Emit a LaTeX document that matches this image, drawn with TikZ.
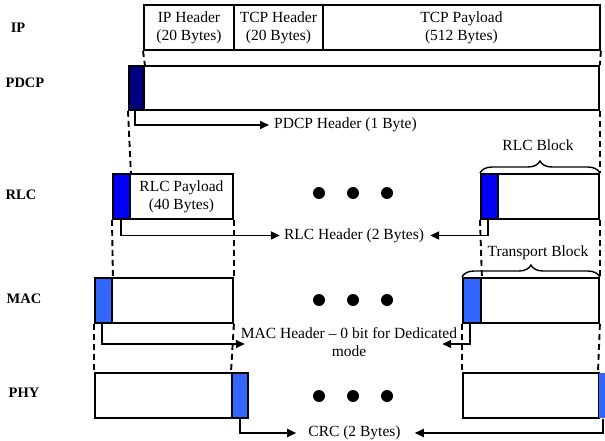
\documentclass[tikz,border=0pt]{standalone}
\usepackage{fontspec}
\setmainfont{Liberation Serif}
\usetikzlibrary{arrows.meta,decorations.pathreplacing}
\definecolor{pdcpnavy}{RGB}{0,0,128}
\definecolor{rlcblue}{RGB}{0,0,255}
\definecolor{macblue}{RGB}{51,102,255}
\begin{document}
\begin{tikzpicture}[x=1pt,y=-1pt,
 box/.style={draw, line width=1.9pt, inner sep=0pt, anchor=north west, font=\fontsize{15.5}{18}\selectfont, align=center},
 lay/.style={font=\fontsize{14.5}{16}\selectfont\bfseries, inner sep=0pt},
 txt/.style={font=\fontsize{15.5}{18}\selectfont, align=center, inner sep=0pt},
 guide/.style={line width=1.9pt, dash pattern=on 6pt off 4pt},
 arr/.style={line width=1.9pt, -{Triangle[length=9pt,width=8pt]}},
 dot/.style={circle, fill, inner sep=0pt, minimum size=12pt},
 brc/.style={line width=1.4pt, decorate, decoration={brace, amplitude=12pt}}
]
\useasboundingbox (0,0) rectangle (605,441);

% layer labels
\node[lay] (lip) at (18,28) {IP};
\node[lay] (lpdcpl) at (25,83) {PDCP};
\node[lay] (lrlcl) at (21,195) {RLC};
\node[lay] (lmacl) at (24,299) {MAC};
\node[lay] (lphyl) at (24,393) {PHY};

% IP packet
\node[box, minimum width=90pt, minimum height=45pt] (iph) at (143,4) {IP Header\\(20 Bytes)};
\node[box, minimum width=89pt, minimum height=45pt] (tcph) at (233,4) {TCP Header\\(20 Bytes)};
\node[box, minimum width=277pt, minimum height=45pt] (ipp) at (322,4) {TCP Payload\\(512 Bytes)};

% PDCP
\node[box, fill=pdcpnavy, minimum width=15pt, minimum height=44pt] (pdcph) at (128,65) {};
\node[box, minimum width=455pt, minimum height=44pt] (pdcpb) at (143,65) {};

% RLC
\node[box, fill=rlcblue, minimum width=17pt, minimum height=45pt] (rlch1) at (112,173) {};
\node[box, minimum width=103pt, minimum height=45pt] (rlcb1) at (129,173) {RLC Payload\\(40 Bytes)};
\node[box, fill=rlcblue, minimum width=17pt, minimum height=45pt] (rlch2) at (480,173) {};
\node[box, minimum width=101pt, minimum height=45pt] (rlcb2) at (497,173) {};

% MAC
\node[box, fill=macblue, minimum width=17pt, minimum height=45pt] (mach1) at (94,277) {};
\node[box, minimum width=121pt, minimum height=45pt] (macb1) at (111,277) {};
\node[box, fill=macblue, minimum width=18pt, minimum height=45pt] (mach2) at (462,277) {};
\node[box, minimum width=118pt, minimum height=45pt] (macb2) at (480,277) {};

% PHY
\node[box, minimum width=137pt, minimum height=45pt] (phyb1) at (94,372) {};
\node[box, fill=macblue, minimum width=16pt, minimum height=45pt] (phyc1) at (231,372) {};
\node[box, minimum width=136pt, minimum height=45pt] (phyb2) at (462,372) {};
\node[box, draw=none, fill=macblue, minimum width=7pt, minimum height=45pt] (phyc2) at (598,372) {};

% guides
\draw[guide] (iph.south west) -- (pdcph.north east);
\draw[guide] (ipp.south east) -- (pdcpb.north east);
\draw[guide] (pdcph.south west) -- (rlch1.north east);
\draw[guide] (pdcpb.south east) -- (rlcb2.north east);
\draw[guide] (rlch1.south west) -- (mach1.north east);
\draw[guide] (rlcb1.south east) -- (macb1.north east);
\draw[guide] (rlch2.south west) -- (mach2.north east);
\draw[guide] (rlcb2.south east) -- (macb2.north east);
\draw[guide] (mach1.south west) -- (phyb1.north west);
\draw[guide] (macb1.south east) -- (phyc1.north west);
\draw[guide] (mach2.south west) -- (phyb2.north west);
\draw[guide] (macb2.south east) -- (phyc2.north west);

% dots
\foreach \y [count=\r] in {193,300,396}{
  \foreach \x [count=\c] in {319,353,387}{
    \node[dot] (d\r\c) at (\x,\y) {};
  }
}

% braces
\node[txt] (lrlcblk) at (538,145) {RLC Block};
\draw[brc] (rlch2.north west) -- (rlcb2.north east);
\node[txt] (ltb) at (538,253) {Transport Block};
\draw[brc] (mach2.north west) -- (macb2.north east);

% header labels and arrows
\node[txt, anchor=west] (lpdcp) at (274,125) {PDCP Header (1 Byte)};
\draw[arr] ([xshift=7pt]pdcph.south west) |- ([xshift=-5pt]lpdcp.west);

\node[txt] (lrlc) at (354,235.5) {RLC Header (2 Bytes)};
\draw[arr] ([xshift=9pt]rlch1.south west) |- ([xshift=-4pt]lrlc.west);
\draw[arr] ([xshift=8pt]rlch2.south west) |- ([xshift=6pt]lrlc.east);

\node[txt] (lmac) at (349,342) {MAC Header -- 0 bit for Dedicated\\mode};
\draw[arr] ([xshift=8pt]mach1.south west) |- ([xshift=4pt,yshift=-2pt]lmac.west);
\draw[arr] ([xshift=8pt]mach2.south west) |- ([xshift=-15pt,yshift=-2pt]lmac.east);

\node[txt] (lcrc) at (354.5,433) {CRC (2 Bytes)};
\draw[arr] (phyc1.south) |- ([xshift=-12pt]lcrc.west);
\draw[arr] ([xshift=5pt]phyc2.south west) |- ([xshift=14pt]lcrc.east);
\end{tikzpicture}
\end{document}
